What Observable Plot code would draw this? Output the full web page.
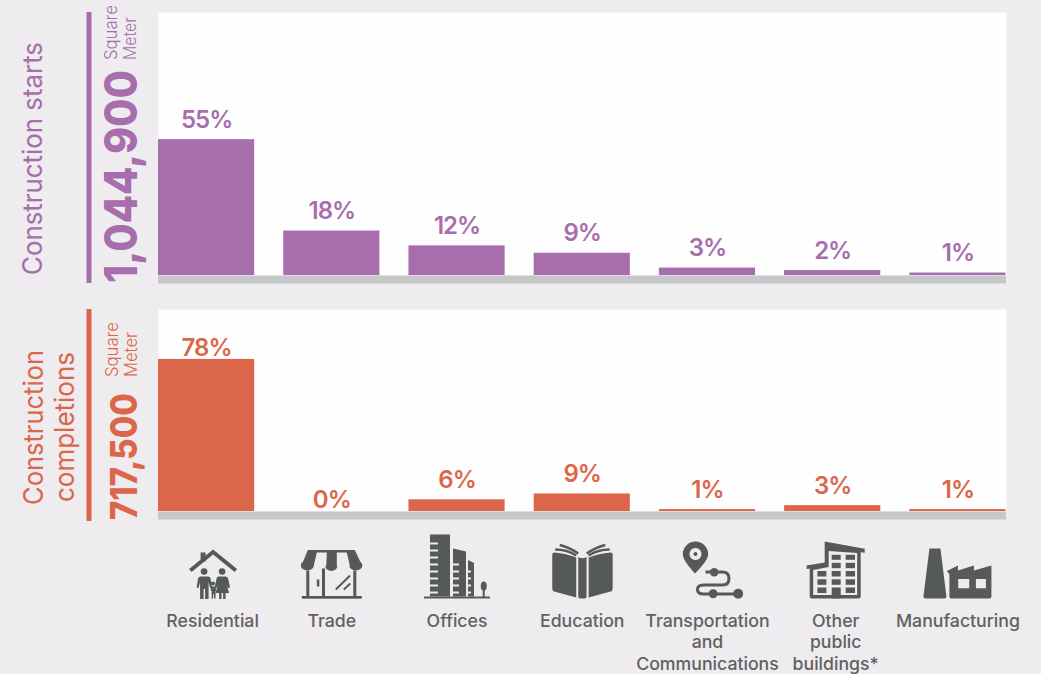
<!DOCTYPE html>
<html><head><meta charset="utf-8">
<script src="https://cdn.jsdelivr.net/npm/d3@7"></script>
<script src="https://cdn.jsdelivr.net/npm/@observablehq/plot@0.6"></script>
<style>
html,body{margin:0;padding:0;background:#eeecee;width:1041px;height:674px;overflow:hidden}
#wrap{position:relative;width:1041px;height:674px}
#wrap>*{position:absolute;left:0}
.pct text{letter-spacing:-1px}
</style></head><body><div id="wrap"></div>
<script>
const FONT = "Inter, 'Noto Sans', sans-serif";
const categories = ["Residential","Trade","Offices","Education","Transportation and Communications","Other public buildings*","Manufacturing"];
const tickLabels = ["Residential","Trade","Offices","Education","Transportation\nand\nCommunications","Other\npublic\nbuildings*","Manufacturing"];
const startsValues = [55,18,12,9,3,2,1];
const completionsValues = [78,0,6,9,1,3,1];
const PURPLE="#a76dac", ORANGE="#dc664a", GREY="#c6c7c8", ICON="#55595a", TEXT="#5f6162", BG="#eeecee";

const iconBodies = {
 "Residential": `<path d="M188.500 568.500l24-19.500 24 19.500-2.500 3-21.500-17.500-21.500 17.500z"/><rect x="200" y="552" width="5" height="9"/><circle cx="203.500" cy="571" r="3.300"/><circle cx="221.500" cy="571" r="3.300"/><path d="M199.500 576h8q2 0 2.500 2l1.500 9-2 .5-1.500-6v17h-3.500v-10h-1.500v10h-3.500v-17l-1.500 6-2-.5 1.500-9q.5-2 2.500-2z"/><path d="M218 576h7q2 0 2.500 2l2 9-2 .5-1.500-4 2.500 9h-3.500v6h-2.500v-6h-1.500v6h-2.500v-6h-3.500l2.500-9-1.500 4-2-.5 2-9q.5-2 2-2z"/><circle cx="212.400" cy="583" r="2"/><path d="M210.500 586h4l1.500 4-1 .5v7.500h-1.500v-4h-1v4h-1.500v-7.500l-1-.5z"/>`,
 "Trade": `<path d="M307 549.500h47l7.500 16h-61z"/><ellipse cx="306.500" cy="565" rx="6.500" ry="5"/><ellipse cx="330.500" cy="565.500" rx="6" ry="5"/><ellipse cx="355" cy="565" rx="6.500" ry="5"/><path fill="${BG}" d="M316 552h10l-.5 13q-6 7-12.500 0zM336 552h10l3 13q-6.500 7-13 0z"/><path fill="none" stroke="${ICON}" stroke-width="3" d="M307 570v26M322.700 568v28M354 570v26"/><rect x="301" y="595.500" width="60" height="2.700"/><rect x="316" y="579" width="2.500" height="7"/><path fill="none" stroke="${ICON}" stroke-width="2" d="M335 589l14.300-14M343 589l6.500-6"/>`,
 "Offices": `<path d="M429 534h20v62h-20v-3h8v-2h-8v-5h8v-2h-8v-5h8v-2h-8v-5h8v-2h-8v-5h8v-2h-8v-5h8v-2h-8v-5h8v-2h-8v-5h8v-2h-8z"/><path d="M452 548l13 3v45h-13v-3h6v-2h-6v-5h6v-2h-6v-5h6v-2h-6v-5h6v-2h-6v-5h6v-2h-6z"/><path d="M467 559.500l6 3v33.500h-6v-3h3v-2h-3v-5h3v-2h-3v-5h3v-2h-3v-5h3v-2h-3z"/><rect x="423" y="596" width="66" height="2"/><ellipse cx="482.700" cy="585.500" rx="3" ry="4.500"/><rect x="481.700" y="587" width="2" height="10"/>`,
 "Education": `<path d="M553 552q12 1 22 5v40l-22-6q-2-.5-2-3v-34q0-2 2-2zM609.400 552q-12 1-22 5v40l22-6q2-.5 2-3v-34q0-2-2-2z"/><path d="M577 556.500q4 2.500 8.300 0v39q0 2.500-2 2.500h-4.300q-2 0-2-2.500z"/><path d="M554 549q12 0 21 6M558.500 544.500q10 2.500 18.500 8.500M608.400 549q-12 0-21 6M604 544.500q-10 2.500-18.500 8.500" fill="none" stroke="${ICON}" stroke-width="2.500"/>`,
 "Transportation and Communications": `<path fill-rule="evenodd" d="M694 541a12.700 12.700 0 0 1 12.700 12.700q0 6-13.200 19.300q-12.200-13.300-12.200-19.300a12.700 12.700 0 0 1 12.700-12.700zm0 6.500a6 6 0 1 0 .01 0zm0 4a2 2 0 1 1-.01 0z" /><path fill="none" stroke="${ICON}" stroke-width="3" d="M704 571.500h17q6.500 0 6.500 6.500t-6.500 6.500h-19q-6 0-6 4.500t6 4.500h34"/><circle cx="712.700" cy="571.700" r="4.300"/><circle cx="711.700" cy="593.300" r="4.500"/><circle cx="736.700" cy="593.300" r="5"/>`,
 "Other public buildings*": `<path d="M824 541l40 7.300v4l-4-.5v44.200a2 2 0 0 1-2 2h-47a2 2 0 0 1-2-2v-28l-3 .5v-3.500l18-3z"/><path fill="${BG}" d="M828 550.500l28.500 2v42h-44v-25l15.500-3z"/><g fill="${ICON}"><rect x="831" y="554.300" width="9" height="5"/><rect x="845" y="554.300" width="9.300" height="5"/><rect x="831" y="562.300" width="9" height="5.400"/><rect x="845" y="562.300" width="9.300" height="5.400"/><rect x="816.700" y="570.500" width="9" height="5.500"/><rect x="831" y="570.500" width="9" height="5.500"/><rect x="845" y="570.500" width="9.300" height="5.500"/><rect x="816.700" y="578.800" width="9" height="5.500"/><rect x="831" y="578.800" width="9" height="5.500"/><rect x="845" y="578.800" width="9.300" height="5.500"/><rect x="816.700" y="587" width="9" height="5.500"/><rect x="845" y="587" width="9.300" height="5.500"/><rect x="831" y="587" width="9" height="11"/></g>`,
 "Manufacturing": `<path d="M928.500 548h11l6 48q0 2-2 2h-19q-2 0-2-2z"/><path fill-rule="evenodd" d="M946 570.500l11-5.500v5l16-5v5l17.500-5v31q0 2-2 2h-38.500q-1.500 0-1.500-2v-22zm11.300 8v9.200h11v-9.200zm17.700 0v9.200h10v-9.200z"/>`
};
const iconViewBox = {
 "Residential":"146 525 120 90","Trade":"271 525 120 90","Offices":"396 525 120 90","Education":"521 525 120 90",
 "Transportation and Communications":"646 525 120 90","Other public buildings*":"772 525 120 90","Manufacturing":"897 525 120 90"
};
const iconHref = c => "data:image/svg+xml;utf8," + encodeURIComponent(
 `<svg xmlns="http://www.w3.org/2000/svg" width="120" height="90" viewBox="${iconViewBox[c]}" fill="${ICON}">${iconBodies[c]}</svg>`);

function panel({values,color,yMax,height,marginTop,marginBottom,extra=[]}){
 const rows = categories.map((c,i)=>({category:c,value:values[i]}));
 const high = d => d.value>=70 || d.value===0;
 const lab = {x:"category",y:"value",text:d=>d.value+"%",fill:color,fontSize:24,fontWeight:600,className:"pct"};
 return Plot.plot({
  width:1041,height,marginTop,marginBottom,marginLeft:158,marginRight:35,
  style:{background:"transparent",fontFamily:FONT,overflow:"visible"},
  x:{domain:categories,range:[158,1005.500],round:false,paddingInner:0.232,paddingOuter:0,align:0.5,axis:null},
  y:{domain:[0,yMax],axis:null},
  marks:[
   Plot.frame({fill:"#fefefe",stroke:"none"}),
   Plot.ruleY([0],{stroke:GREY,strokeWidth:8,dy:4}),
   Plot.barY(rows,{x:"category",y:"value",fill:color}),
   Plot.text(rows.filter(d=>!high(d)),{...lab,dy:-19.500}),
   Plot.text(rows.filter(high),{...lab,dy:-11.500}),
   ...extra
  ]
 });
}

const wrap = document.getElementById("wrap");
const top1 = panel({values:startsValues,color:PURPLE,yMax:106.5,height:290,marginTop:12,marginBottom:15});
top1.style.top="0px";
wrap.appendChild(top1);

const axisOpts = {tickSize:0,tickPadding:0,fontSize:17.7,fontWeight:500,fill:TEXT,lineHeight:1.22,label:null,textAnchor:"middle"};
const tickFmt = c => tickLabels[categories.indexOf(c)];
const top2 = panel({values:completionsValues,color:ORANGE,yMax:103.6,height:365,marginTop:9,marginBottom:154,extra:[
  Plot.image(categories,{x:d=>d,y:()=>0,src:iconHref,width:120,height:90,dy:59}),
  Plot.axisX(["Residential"],{...axisOpts,dx:6,dy:100,tickFormat:tickFmt}),
  Plot.axisX(categories.filter(c=>c!=="Residential"&&c!=="Other public buildings*"),{...axisOpts,dy:100,tickFormat:tickFmt}),
  Plot.axisX(["Other public buildings*"],{...axisOpts,dx:3,dy:100,tickFormat:tickFmt})
]});
top2.style.top="300px";
wrap.appendChild(top2);

const ov = d3.select(wrap).append("svg").attr("width",1041).attr("height",674).style("font-family",FONT).style("pointer-events","none");
const rule=(y0,y1,c)=>ov.append("rect").attr("x",86.500).attr("y",y0).attr("width",5).attr("height",y1-y0).attr("fill",c);
rule(12,283,PURPLE); rule(309,521,ORANGE);
function rot(txt,x,y,len,size,weight,color,anchor="start"){
 ov.append("text").attr("transform",`translate(${x},${y}) rotate(-90)`).attr("text-anchor",anchor)
  .attr("font-size",size).attr("font-weight",weight).attr("fill",color)
  .attr("textLength",len).attr("lengthAdjust","spacingAndGlyphs").text(txt);
}
rot("Construction starts",42,275,233,27,400,PURPLE);
rot("1,044,900",137,283,213,45,800,PURPLE);
rot("Square",116.500,60,55,17,300,PURPLE);
rot("Meter",136,60,43,17,300,PURPLE);
rot("Construction",43,505,155,27,400,ORANGE);
rot("completions",74,502,150,27,400,ORANGE);
rot("717,500",137,520,127,37,800,ORANGE);
rot("Square",117.500,377,55,17,300,ORANGE);
rot("Meter",137,377,45,17,300,ORANGE);
</script></body></html>
